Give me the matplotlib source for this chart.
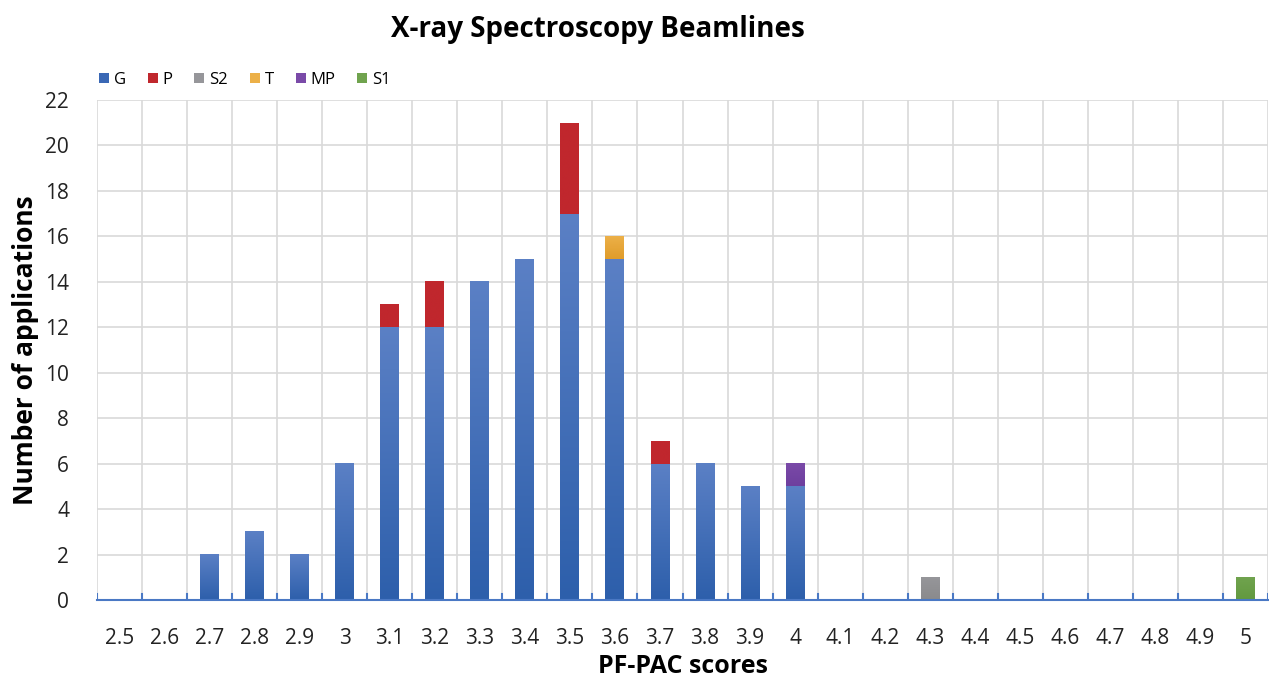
import matplotlib.pyplot as plt
import numpy as np
from matplotlib.colors import LinearSegmentedColormap
from matplotlib.patches import Patch

plt.rcParams['font.family'] = ['Open Sans', 'DejaVu Sans']

# PF-PAC score categories
scores = ['2.5', '2.6', '2.7', '2.8', '2.9', '3', '3.1', '3.2', '3.3', '3.4', '3.5', '3.6', '3.7',
          '3.8', '3.9', '4', '4.1', '4.2', '4.3', '4.4', '4.5', '4.6', '4.7', '4.8', '4.9', '5']

# number of applications per group
G  = [0, 0, 2, 3, 2, 6, 12, 12, 14, 15, 17, 15, 6, 6, 5, 5, 0, 0, 0, 0, 0, 0, 0, 0, 0, 0]
P  = [0, 0, 0, 0, 0, 0, 1, 2, 0, 0, 4, 0, 1, 0, 0, 0, 0, 0, 0, 0, 0, 0, 0, 0, 0, 0]
S2 = [0, 0, 0, 0, 0, 0, 0, 0, 0, 0, 0, 0, 0, 0, 0, 0, 0, 0, 1, 0, 0, 0, 0, 0, 0, 0]
T  = [0, 0, 0, 0, 0, 0, 0, 0, 0, 0, 0, 1, 0, 0, 0, 0, 0, 0, 0, 0, 0, 0, 0, 0, 0, 0]
MP = [0, 0, 0, 0, 0, 0, 0, 0, 0, 0, 0, 0, 0, 0, 0, 1, 0, 0, 0, 0, 0, 0, 0, 0, 0, 0]
S1 = [0, 0, 0, 0, 0, 0, 0, 0, 0, 0, 0, 0, 0, 0, 0, 0, 0, 0, 0, 0, 0, 0, 0, 0, 0, 1]

series = [('G', G, '#2d5fab', '#5b80c5'),
          ('P', P, '#c0272d', '#c0272d'),
          ('S2', S2, '#8a8a8c', '#96969a'),
          ('T', T, '#e09c2a', '#ecb048'),
          ('MP', MP, '#6e3f9e', '#7a4aa8'),
          ('S1', S1, '#62993f', '#70a34e')]

fig = plt.figure(figsize=(12.69, 6.8), dpi=100)
ax = fig.add_axes([97 / 1269, 1 - 600 / 680, (1268 - 97) / 1269, 500 / 680])

x = np.arange(len(scores))
w = 0.42
bottom = np.zeros(len(scores))
grad = np.linspace(0, 1, 256).reshape(-1, 1)
for name, vals, dark, light in series:
    vals = np.array(vals, dtype=float)
    cmap = LinearSegmentedColormap.from_list(name, [dark, light])
    bars = ax.bar(x, vals, w, bottom=bottom, color=dark, zorder=2, linewidth=0)
    for b, v in zip(bars, vals):
        if v > 0:
            x0 = b.get_x()
            y0 = b.get_y()
            ax.imshow(grad, extent=[x0, x0 + w, y0, y0 + v], origin='lower',
                      cmap=cmap, aspect='auto', zorder=2.1, interpolation='bilinear')
    bottom += vals

ax.set_xlim(-0.5, len(scores) - 0.5)
ax.set_ylim(0, 22)
ax.set_yticks(range(0, 23, 2))
ax.set_xticks(x)
ax.set_xticklabels(scores)
ax.tick_params(axis='both', length=0, labelsize=15, colors='#222222')
ax.tick_params(axis='x', pad=20)
ax.tick_params(axis='y', pad=20)

# gridlines: horizontal at ticks, vertical at category boundaries
for yv in range(2, 23, 2):
    ax.axhline(yv, color='#d9d9d9', lw=1.2, zorder=0)
for xb in np.arange(-0.5, len(scores), 1.0):
    ax.axvline(xb, color='#d9d9d9', lw=1.2, zorder=0)
    ax.plot([xb, xb], [0, 0.25], color='#4a78c4', lw=1.5, zorder=3)

for s in ['top', 'right', 'left']:
    ax.spines[s].set_visible(False)
ax.spines['bottom'].set_color('#4a78c4')
ax.spines['bottom'].set_linewidth(1.5)

ax.set_xlabel('PF-PAC scores', fontsize=18, fontweight='bold', labelpad=4)
ax.set_ylabel('Number of applications', fontsize=19, fontweight='bold')
ax.yaxis.set_label_coords(-58 / 1171, 0.5)
fig.text(598 / 1269, 1 - 30 / 680, 'X-ray Spectroscopy Beamlines', fontsize=20,
         fontweight='bold', ha='center', va='center')

handles = [Patch(facecolor=light if name != 'G' else '#3a68b5', label=name)
           for name, vals, dark, light in series]
fig.legend(handles=handles, loc='center left', bbox_to_anchor=(84 / 1269, 1 - 80 / 680),
           ncol=6, frameon=False, fontsize=12, handlelength=0.6, handleheight=0.6,
           handletextpad=0.3, columnspacing=1.3)

fig.savefig('out.png', dpi=100)
